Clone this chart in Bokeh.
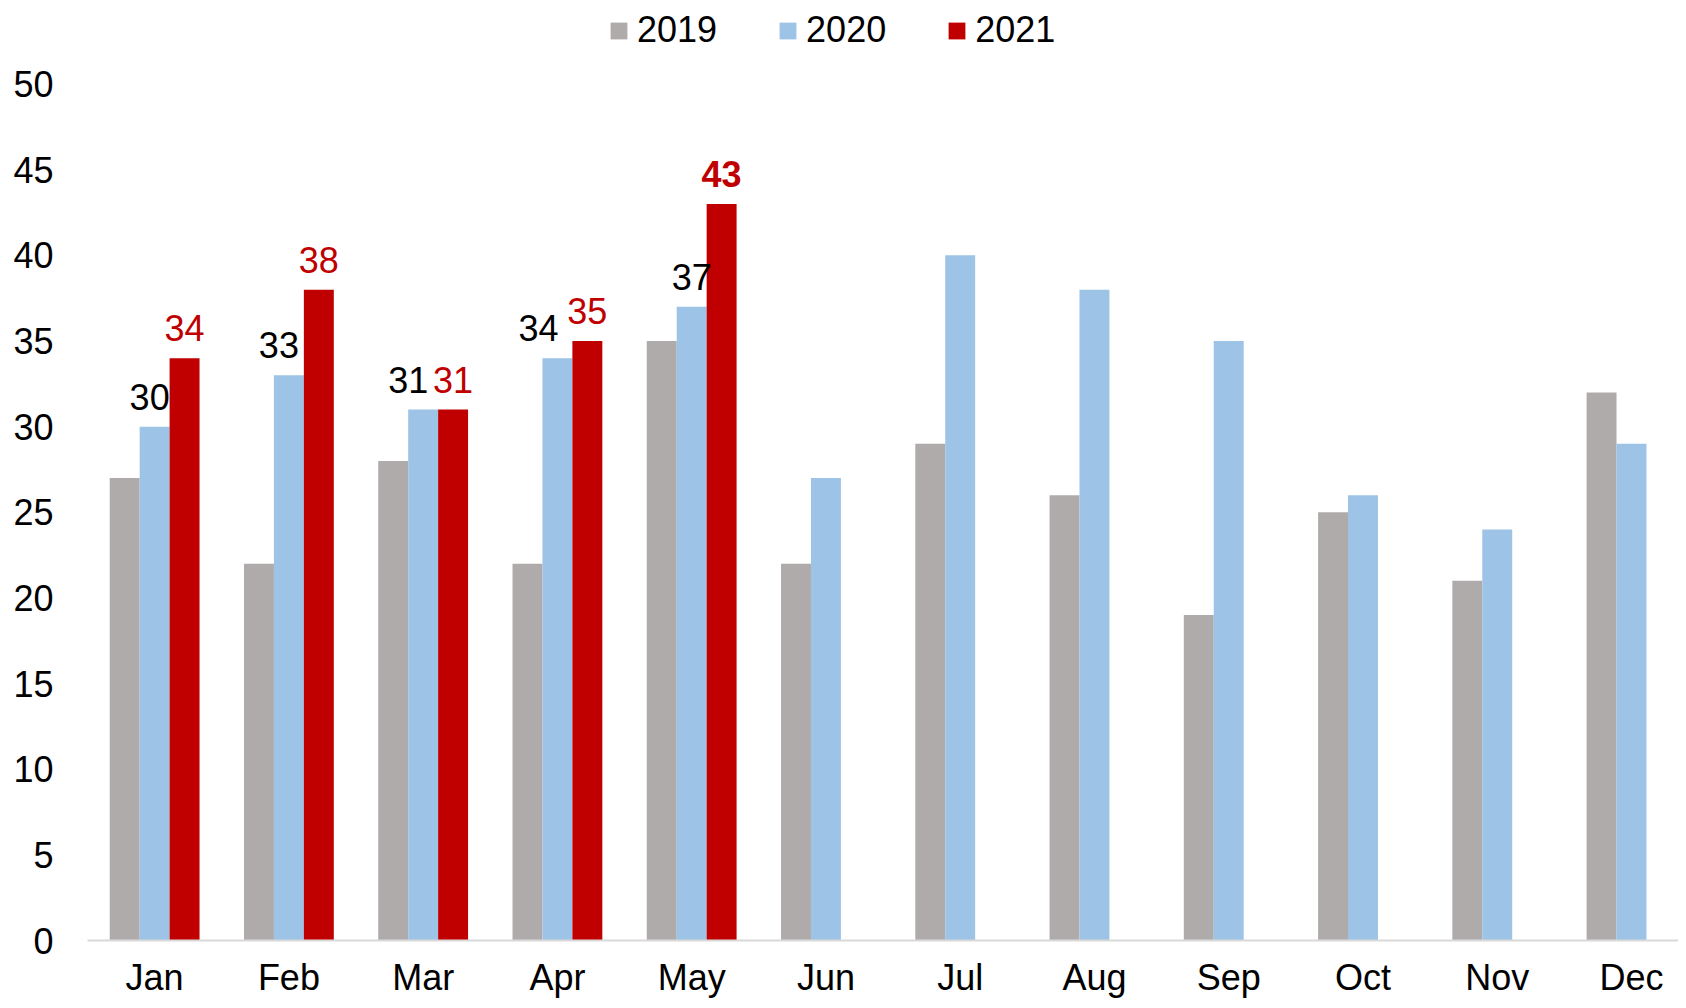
from bokeh.plotting import figure
from bokeh.models import ColumnDataSource, Range1d, FixedTicker, Legend, LegendItem
from bokeh.transform import dodge
from bokeh.core.properties import value
from bokeh.embed import file_html
from bokeh.resources import INLINE

months = ["Jan", "Feb", "Mar", "Apr", "May", "Jun", "Jul", "Aug", "Sep", "Oct", "Nov", "Dec"]
v2019 = [27, 22, 28, 22, 35, 22, 29, 26, 19, 25, 21, 32]
v2020 = [30, 33, 31, 34, 37, 27, 40, 38, 35, 26, 24, 29]
v2021 = [34, 38, 31, 35, 43]
y_ticks = [0, 5, 10, 15, 20, 25, 30, 35, 40, 45, 50]

# style: horizontal nudges (px) of 2020 labels, as in the original
lab2020_dx = [-5, -10, -15, -19, 0]

FONT = "Liberation Sans"
C19, C20, C21 = "#AFABAB", "#9DC3E6", "#C00000"
BW = 0.223

idx = list(range(len(months)))
src19 = ColumnDataSource(dict(x=idx, y=v2019))
src20 = ColumnDataSource(dict(x=idx, y=v2020))
src21 = ColumnDataSource(dict(x=idx[:len(v2021)], y=v2021))

n_lab = len(v2021)
lab20 = ColumnDataSource(dict(x=idx[:n_lab], y=v2020[:n_lab], t=[str(v) for v in v2020[:n_lab]], dx=lab2020_dx))
bold_i = v2021.index(max(v2021))
lab21 = ColumnDataSource(dict(x=idx[:n_lab], y=v2021, t=[str(v) for v in v2021],
                              fs=["bold" if i == bold_i else "normal" for i in range(n_lab)]))

# frame runs to the top of the canvas so the legend can sit inside it
p = figure(width=1678, height=1000, output_backend="svg", toolbar_location=None,
           x_range=Range1d(-0.5, 11.35), y_range=Range1d(0, 54.88),
           min_border_left=87, min_border_right=0, min_border_top=0, min_border_bottom=56)
p.outline_line_color = None
p.xgrid.grid_line_color = None
p.ygrid.grid_line_color = None

r19 = p.vbar(x=dodge("x", -BW), top="y", width=BW, source=src19, fill_color=C19, line_color=None)
r20 = p.vbar(x="x", top="y", width=BW, source=src20, fill_color=C20, line_color=None)
r21 = p.vbar(x=dodge("x", BW), top="y", width=BW, source=src21, fill_color=C21, line_color=None)

p.text(x="x", y="y", text="t", x_offset="dx", y_offset=-30, source=lab20,
       text_font=value(FONT), text_font_size="36px", text_color="black",
       text_align="center", text_baseline="alphabetic")
p.text(x=dodge("x", BW), y="y", text="t", y_offset=-30, source=lab21,
       text_font=value(FONT), text_font_size="36px", text_color=C21, text_font_style="fs",
       text_align="center", text_baseline="alphabetic")

xa = p.xaxis[0]
xa.ticker = FixedTicker(ticks=idx)
xa.major_label_overrides = {i: m for i, m in enumerate(months)}
xa.major_tick_line_color = None
xa.major_tick_out = 0
xa.major_tick_in = 0
xa.minor_tick_line_color = None
xa.minor_tick_out = 0
xa.minor_tick_in = 0
xa.axis_label_standoff = 0
xa.axis_line_color = "#D9D9D9"
xa.axis_line_width = 2
xa.major_label_text_font = FONT
xa.major_label_text_font_size = "36px"
xa.major_label_text_color = "black"
xa.major_label_standoff = 16

ya = p.yaxis[0]
ya.ticker = FixedTicker(ticks=y_ticks)
ya.axis_line_color = None
ya.major_tick_line_color = None
ya.major_tick_out = 0
ya.major_tick_in = 0
ya.minor_tick_line_color = None
ya.minor_tick_out = 0
ya.major_label_text_font = FONT
ya.major_label_text_font_size = "36px"
ya.major_label_text_color = "black"
ya.major_label_standoff = 34

legend = Legend(items=[LegendItem(label="2019", renderers=[r19]),
                       LegendItem(label="2020", renderers=[r20]),
                       LegendItem(label="2021", renderers=[r21])],
                orientation="horizontal", location=(521, 889),
                glyph_width=21, glyph_height=21, label_standoff=8, spacing=60,
                label_height=40, padding=0, margin=0, border_line_color=None,
                background_fill_alpha=0,
                label_text_font=FONT, label_text_font_size="36px", label_text_color="black")
p.add_layout(legend, "center")

open("out.html", "w").write(file_html(p, INLINE))
